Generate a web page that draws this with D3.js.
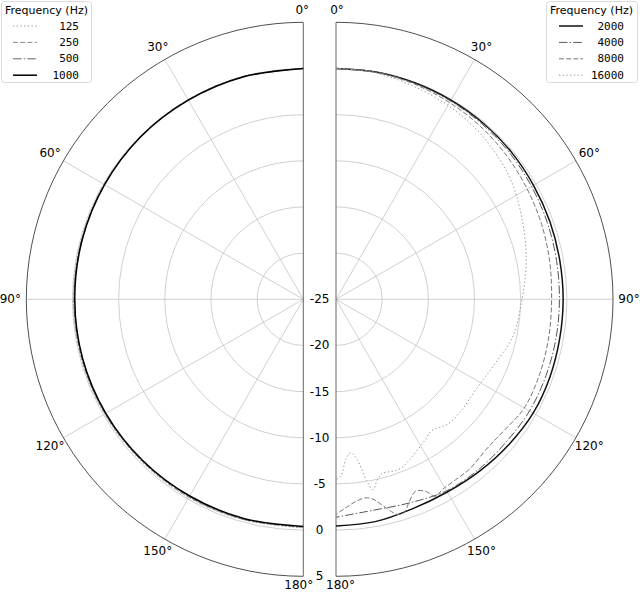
<!DOCTYPE html>
<html>
<head>
<meta charset="utf-8">
<script src="https://cdn.jsdelivr.net/npm/d3@7"></script>
<style>
  body { margin: 0; background: #fff; }
  text { font-family: "DejaVu Sans", sans-serif; fill: #000; }
</style>
</head>
<body>
<div id="vis"></div>
<script>
const WIDTH = 640;
const HEIGHT = 592;
const RADIUS = 277;
const LEFT_CENTER = { x: 303.3, y: 299.3 };
const RIGHT_CENTER = { x: 336, y: 299.3 };

// ticks
const ANGLE_TICKS = [0, 30, 60, 90, 120, 150, 180];
const RADIAL_TICKS = [-25, -20, -15, -10, -5, 0, 5];
const LEFT_FREQS = ["125", "250", "500", "1000"];
const RIGHT_FREQS = ["2000", "4000", "8000", "16000"];

// low frequencies (left half), angles in degrees, level in dB
const LOW_ANGLES = [0, 15, 30, 45, 60, 75, 90, 105, 120, 135, 150, 165, 180];
const LEVEL_125 = [0, 0, -0.05, -0.05, -0.1, -0.1, -0.1, -0.15, -0.15, -0.2, -0.2, -0.25, -0.25];
const LEVEL_250 = [0, 0, -0.05, -0.1, -0.1, -0.15, -0.15, -0.15, -0.2, -0.25, -0.25, -0.3, -0.3];
const LEVEL_500 = [0, -0.05, -0.05, -0.1, -0.15, -0.2, -0.2, -0.25, -0.25, -0.3, -0.35, -0.35, -0.35];
const LEVEL_1000 = [0, -0.05, -0.1, -0.1, -0.15, -0.2, -0.25, -0.25, -0.3, -0.35, -0.4, -0.4, -0.4];

// high frequencies (right half)
const MID_ANGLES = [0, 10, 20, 30, 40, 50, 60, 70, 80, 90, 100, 110, 120, 130, 140, 150, 160, 170, 180];
const LEVEL_2000 = [0, 0, -0.05, -0.1, -0.15, -0.2, -0.3, -0.35, -0.4, -0.4, -0.4, -0.35, -0.35, -0.55, -0.75, -0.9, -0.85, -0.55, -0.45];
const LEVEL_4000 = [0, 0, -0.1, -0.2, -0.3, -0.4, -0.55, -0.65, -0.75, -0.8, -0.8, -0.8, -0.8, -0.95, -0.95, -1.05, -1.55, -1.8, -1.4];

const ANGLES_8000 = [0, 10, 20, 30, 40, 50, 60, 70, 80, 90, 100, 110, 120, 126, 131, 135, 142, 146.5, 150.8, 153.2,
  155, 157.5, 160.3, 162.3, 164, 166.6, 169.2, 171.4, 174.4, 177.3, 180];
const LEVEL_8000 = [0, -0.05, -0.2, -0.4, -0.6, -0.85, -1.1, -1.3, -1.5, -1.65, -1.6, -1.5, -1.45, -1.8, -2.0, -2.0, -1.6, -1.55, -1.4, -1.1,
  -2.05, -2.5, -1.6, -0.75, -0.75, -1.8, -2.9, -3.25, -3.0, -2.4, -1.7];

const ANGLES_16000 = [0, 10, 20, 30, 40, 50, 56, 65, 77.5, 90, 102, 113, 120, 127, 131, 138, 144, 148, 152, 156,
  159, 162, 165, 167, 169, 170.5, 172.5, 174.5, 176.5, 178.5, 180];
const LEVEL_16000 = [0, -0.1, -0.45, -0.75, -1.15, -1.7, -2.1, -2.9, -3.9, -4.85, -5.45, -6.5, -6.9, -6.95, -6.85, -6.85, -7.4, -6.9, -6.4, -5.8,
  -5.4, -5.4, -5.5, -5.0, -4.0, -5.2, -7.5, -8.3, -7.6, -5.8, -5.5];

const SERIES = {
  "125": { angles: LOW_ANGLES, levels: LEVEL_125 },
  "250": { angles: LOW_ANGLES, levels: LEVEL_250 },
  "500": { angles: LOW_ANGLES, levels: LEVEL_500 },
  "1000": { angles: LOW_ANGLES, levels: LEVEL_1000 },
  "2000": { angles: MID_ANGLES, levels: LEVEL_2000 },
  "4000": { angles: MID_ANGLES, levels: LEVEL_4000 },
  "8000": { angles: ANGLES_8000, levels: LEVEL_8000 },
  "16000": { angles: ANGLES_16000, levels: LEVEL_16000 }
};

const DOTTED = "1.4,2.3";
const DASHED = "5,2.2";
const DASHDOT = "8.5,2.2,1.4,2.2";
const STYLE = {
  "125": { color: "#999", dash: DOTTED, width: 1 },
  "250": { color: "#888", dash: DASHED, width: 1 },
  "500": { color: "#666", dash: DASHDOT, width: 1 },
  "1000": { color: "#000", dash: null, width: 1.5 },
  "2000": { color: "#111", dash: null, width: 1.5 },
  "4000": { color: "#555", dash: DASHDOT, width: 1 },
  "8000": { color: "#777", dash: DASHED, width: 1 },
  "16000": { color: "#999", dash: DOTTED, width: 1 }
};

const R_SCALE = d3.scaleLinear().domain([-25, 5]).range([0, RADIUS]);
const toRad = (deg) => deg * Math.PI / 180;

const svg = d3.select("#vis")
  .append("svg")
  .attr("width", WIDTH)
  .attr("height", HEIGHT);

function drawHalf(center, side, freqs) {
  const g = svg.append("g")
    .attr("transform", `translate(${center.x},${center.y})`);

  // grid circles
  RADIAL_TICKS.slice(1, -1).forEach((t) => {
    const p = d3.path();
    p.arc(0, 0, R_SCALE(t), -Math.PI / 2, Math.PI / 2, side < 0);
    g.append("path")
      .attr("d", p.toString())
      .attr("fill", "none")
      .attr("stroke", "#c4c4c4")
      .attr("stroke-width", 0.8);
  });

  // spokes
  ANGLE_TICKS.slice(1, -1).forEach((a) => {
    g.append("line")
      .attr("x1", 0).attr("y1", 0)
      .attr("x2", side * RADIUS * Math.sin(toRad(a)))
      .attr("y2", -RADIUS * Math.cos(toRad(a)))
      .attr("stroke", "#c4c4c4")
      .attr("stroke-width", 0.8);
  });

  // outer arc and straight edge
  const outer = d3.path();
  outer.arc(0, 0, RADIUS, -Math.PI / 2, Math.PI / 2, side < 0);
  g.append("path")
    .attr("d", outer.toString())
    .attr("fill", "none")
    .attr("stroke", "#222")
    .attr("stroke-width", 0.8);
  g.append("line")
    .attr("x1", 0).attr("y1", -RADIUS)
    .attr("x2", 0).attr("y2", RADIUS)
    .attr("stroke", "#666")
    .attr("stroke-width", 1);

  // curves
  const line = d3.lineRadial()
    .angle((d) => side * toRad(d[0]))
    .radius((d) => R_SCALE(d[1]))
    .curve(d3.curveCatmullRom);

  freqs.forEach((f) => {
    const s = SERIES[f];
    const pts = s.angles.map((a, i) => [a, s.levels[i]]);
    g.append("path")
      .attr("d", line(pts))
      .attr("fill", "none")
      .attr("stroke", STYLE[f].color)
      .attr("stroke-width", STYLE[f].width)
      .attr("stroke-dasharray", STYLE[f].dash);
  });

  // angle labels (180° nudged up so it stays inside the frame)
  ANGLE_TICKS.forEach((a) => {
    const s = Math.abs(Math.sin(toRad(a)));
    let r = 289 + 4 * s;
    if (a === 180) r = 285.5;
    let x = side * r * Math.sin(toRad(a));
    if (a === 0) x += side * 1;
    if (a === 180) x += side * 4.5;
    g.append("text")
      .attr("x", x)
      .attr("y", -r * Math.cos(toRad(a)))
      .attr("text-anchor", "middle")
      .attr("dominant-baseline", "central")
      .attr("font-size", 12)
      .text(a + "°");
  });
}

drawHalf(LEFT_CENTER, -1, LEFT_FREQS);
drawHalf(RIGHT_CENTER, 1, RIGHT_FREQS);

// radial labels between the two halves
const midX = (LEFT_CENTER.x + RIGHT_CENTER.x) / 2;
svg.selectAll("text.rlab")
  .data(RADIAL_TICKS)
  .enter()
  .append("text")
  .attr("class", "rlab")
  .attr("x", midX)
  .attr("y", (d) => LEFT_CENTER.y + R_SCALE(d))
  .attr("text-anchor", "middle")
  .attr("dominant-baseline", "central")
  .attr("font-size", 12)
  .text((d) => d);

// legends
function drawLegend(x, w, titleX, sampleX, labelX, freqs) {
  const lg = svg.append("g");
  lg.append("rect")
    .attr("x", x).attr("y", 1.5)
    .attr("width", w).attr("height", 81)
    .attr("rx", 3)
    .attr("fill", "#fff")
    .attr("fill-opacity", 0.8)
    .attr("stroke", "#d0d0d0")
    .attr("stroke-width", 0.8);
  lg.append("text")
    .attr("x", titleX).attr("y", 10.5)
    .attr("text-anchor", "middle")
    .attr("dominant-baseline", "central")
    .attr("font-size", 11)
    .text("Frequency (Hz)");
  freqs.forEach((f, i) => {
    const y = 26 + i * 16.4;
    lg.append("line")
      .attr("x1", sampleX).attr("x2", sampleX + 24)
      .attr("y1", y).attr("y2", y)
      .attr("stroke", STYLE[f].color)
      .attr("stroke-width", STYLE[f].width)
      .attr("stroke-dasharray", STYLE[f].dash);
    lg.append("text")
      .attr("x", labelX).attr("y", y)
      .attr("text-anchor", "end")
      .attr("dominant-baseline", "central")
      .attr("font-size", 11)
      .style("font-family", "'DejaVu Sans Mono', monospace")
      .text(f);
  });
}

drawLegend(1.5, 90, 46.5, 13, 79, LEFT_FREQS);
drawLegend(546.5, 91, 591.5, 559, 624, RIGHT_FREQS);
</script>
</body>
</html>
